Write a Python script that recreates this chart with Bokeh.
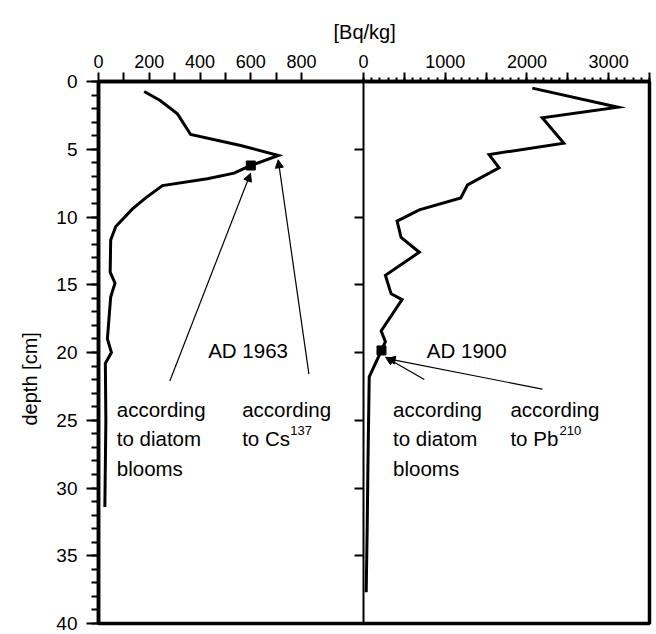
import math
from bokeh.plotting import figure
from bokeh.models import Range1d, LinearAxis, FixedTicker, Arrow, NormalHead, Title
from bokeh.core.properties import value
from bokeh.embed import file_html
from bokeh.resources import INLINE

# ---------------- data ----------------
# Cs-137 activity profile (left panel)
cs_activity = [180, 243, 311, 363, 560, 709, 600, 534, 429, 252, 186, 134, 68, 48,
               46, 65, 48, 35, 51, 27, 29, 25]
cs_depth = [0.74, 1.4, 2.39, 3.91, 4.72, 5.46, 6.2, 6.76, 7.18, 7.68, 8.59, 9.4, 10.7, 11.7,
            14.07, 14.88, 15.9, 19.0, 20.0, 20.8, 25.0, 31.4]
# Pb-210 activity profile (right panel)
pb_activity = [2066, 3114, 2188, 2451, 1537, 1659, 1273, 1191, 683, 411, 460, 683, 268,
               338, 472, 216, 268, 220, 70, 55, 45, 33]
pb_depth = [0.49, 1.9, 2.68, 4.55, 5.39, 6.37, 7.63, 8.59, 9.47, 10.3, 11.5, 12.6, 14.3,
            15.67, 16.1, 18.4, 19.2, 19.85, 21.8, 28.0, 33.0, 37.7]
# diatom-bloom markers
cs_marker_x = [600]
cs_marker_y = [6.2]
pb_marker_x = [220]
pb_marker_y = [19.85]

# ticks
depth_ticks = [0, 5, 10, 15, 20, 25, 30, 35, 40]
depth_minor = list(range(0, 41))
cs_ticks = [0, 100, 200, 300, 400, 500, 600, 700, 800]
cs_tick_labels = ["0", "", "200", "", "400", "", "600", "", "800"]
pb_ticks = [0, 500, 1000, 1500, 2000, 2500, 3000, 3500]
pb_tick_labels = ["0", "", "1000", "", "2000", "", "3000", ""]
pb_minor = list(range(0, 3501, 100))

# panel extents (in data units)
CS_MAX = 1044
PB_MAX = 3500
DEPTH_MAX = 40

# texts
unit_label = "[Bq/kg]"
depth_label = "depth [cm]"
cs_year = "AD 1963"
pb_year = "AD 1900"
FONT = "Liberation Sans"

# ---------------- layout geometry ----------------
W, H = 656, 634
BL, BR, BT, BB = 98, 7, 81, 11
FRAME_W = W - BL - BR
LEFT_W = 265
RIGHT_W = FRAME_W - LEFT_W
x_end = CS_MAX * FRAME_W / LEFT_W
pb_start = -PB_MAX * LEFT_W / RIGHT_W


def pb_to_main(v):
    """position of a Pb-axis value on the shared top axis (same mapping as the 'pb' range)"""
    return CS_MAX + v * (x_end - CS_MAX) / PB_MAX


p = figure(width=W, height=H, output_backend="svg", toolbar_location=None,
           x_range=Range1d(0, x_end), y_range=Range1d(DEPTH_MAX, 0),
           x_axis_location=None, y_axis_location=None,
           min_border_left=BL, min_border_right=BR, min_border_top=BT, min_border_bottom=BB)
p.extra_x_ranges = {"pb": Range1d(pb_start, PB_MAX)}
p.grid.visible = False
p.outline_line_color = "black"
p.outline_line_width = 3.5
p.background_fill_color = "white"
p.border_fill_color = "white"


def style_axis(ax, size="18px"):
    ax.axis_line_color = "black"
    ax.major_tick_line_color = "black"
    ax.minor_tick_line_color = "black"
    ax.major_tick_line_width = 2
    ax.minor_tick_line_width = 2
    ax.major_tick_in = 0
    ax.minor_tick_in = 0
    ax.major_label_text_font = FONT
    ax.major_label_text_font_size = size
    ax.major_label_text_color = "black"


# depth axis
yax = LinearAxis(ticker=FixedTicker(ticks=depth_ticks, minor_ticks=depth_minor))
style_axis(yax, "19px")
yax.axis_line_width = 3.5
yax.major_tick_out = 12
yax.minor_tick_out = 7
yax.major_label_standoff = 9
p.add_layout(yax, "left")

# divider between the panels (ticks pointing into the left panel)
dax = LinearAxis(ticker=FixedTicker(ticks=depth_ticks, minor_ticks=[]), fixed_location=CS_MAX)
style_axis(dax)
dax.axis_line_width = 2
dax.major_tick_out = 9
dax.minor_tick_out = 0
dax.major_label_standoff = 0
dax.major_label_overrides = {t: "" for t in depth_ticks}
p.add_layout(dax, "left")

# shared top axis: Cs scale on the left panel, Pb scale on the right panel
top_major = list(cs_ticks) + [pb_to_main(v) for v in pb_ticks]
top_labels = list(cs_tick_labels) + list(pb_tick_labels)
top_minor = [pb_to_main(v) for v in pb_minor]
tax = LinearAxis(ticker=FixedTicker(ticks=top_major, minor_ticks=top_minor))
style_axis(tax)
tax.axis_line_width = 3.5
tax.major_tick_out = 9
tax.minor_tick_out = 4
tax.major_label_standoff = 5
tax.major_label_overrides = dict(zip(top_major, top_labels))
p.add_layout(tax, "above")

# titles: unit above, depth on the left
p.add_layout(Title(text=unit_label, align="left", offset=235, text_font=FONT,
                   text_font_size="20px", text_font_style="normal", text_color="black",
                   standoff=18), "above")
p.add_layout(Title(text=depth_label, align="left", offset=198, text_font=FONT,
                   text_font_size="20px", text_font_style="normal", text_color="black",
                   standoff=26), "left")

# profiles
p.line(cs_activity, cs_depth, line_width=3, line_color="black", line_join="miter")
p.line(pb_activity, pb_depth, line_width=3, line_color="black", line_join="miter", x_range_name="pb")
p.scatter(cs_marker_x, cs_marker_y, marker="square", size=9, color="black")
p.scatter(pb_marker_x, pb_marker_y, marker="square", size=9, color="black", x_range_name="pb")


# arrows
def arrow(xs, ys, xe, ye, rng="default"):
    p.add_layout(Arrow(x_start=xs, y_start=ys, x_end=xe, y_end=ye, x_range_name=rng,
                       line_width=1.2, line_color="black",
                       end=NormalHead(size=8, fill_color="black", line_color="black", line_width=1)))


arrow(281, 22.1, 599, 6.77)
arrow(829, 21.6, 708, 5.78)
arrow(744, 22.0, 270, 20.35, "pb")
arrow(2188, 22.7, 290, 20.45, "pb")


# text annotations
def txt(xs, ys, texts, size="20.5px", rng="default", x_offset=0, y_offset=0):
    p.text(xs, ys, text=texts, text_font=value(FONT), text_font_size=size,
           text_align="left", text_baseline="alphabetic", text_color="black",
           x_offset=x_offset, y_offset=y_offset, x_range_name=rng)


txt([432], [19.85], [cs_year])
txt([72, 72, 72, 566, 566], [24.23, 26.36, 28.54, 24.23, 26.36],
    ["according", "to diatom", "blooms", "according", "to Cs"])
txt([566], [26.36], ["137"], size="13px", x_offset=48, y_offset=-8)

txt([775], [19.85], [pb_year], rng="pb")
txt([362, 362, 362, 1798, 1798], [24.23, 26.36, 28.54, 24.23, 26.36],
    ["according", "to diatom", "blooms", "according", "to Pb"], rng="pb")
txt([1798], [26.36], ["210"], size="13px", rng="pb", x_offset=49, y_offset=-8)

open("out.html", "w").write(file_html(p, INLINE))
